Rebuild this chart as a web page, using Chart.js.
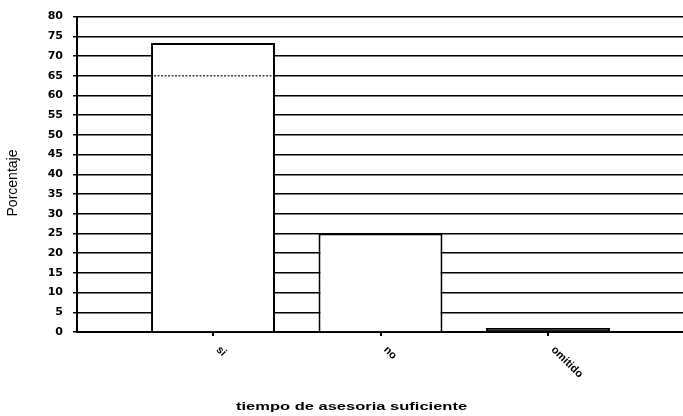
<!DOCTYPE html>
<html>
<head>
<meta charset="utf-8">
<style>
  html, body { margin: 0; padding: 0; background: #fff; }
  #wrap { width: 683px; height: 416px; position: relative; }
</style>
<script src="https://cdn.jsdelivr.net/npm/chart.js@4/dist/chart.umd.min.js"></script>
</head>
<body>
<div id="wrap"><canvas id="chart" width="683" height="416"></canvas></div>
<script>
// Answers to "tiempo de asesoria suficiente"
const categories = ['si', 'no', 'omitido'];
const percentages = [73.3, 25, 1];
const yTicks = [0, 5, 10, 15, 20, 25, 30, 35, 40, 45, 50, 55, 60, 65, 70, 75, 80];
const xTitle = 'tiempo de asesoria suficiente';
const yTitle = 'Porcentaje';

const points = categories.map((c, i) => ({ x: i, y: percentages[i] }));

// Axis titles, slanted category names and the faint gridline seen through the tall bar
const decorations = {
  id: 'decorations',
  afterDatasetsDraw(chart) {
    const { ctx, scales: { y } } = chart;
    const bar = chart.getDatasetMeta(0).data[0];
    const yy = y.getPixelForValue(65);
    ctx.save();
    ctx.strokeStyle = '#444';
    ctx.lineWidth = 1.5;
    ctx.setLineDash([2, 1.5]);
    ctx.beginPath();
    ctx.moveTo(bar.x - bar.width / 2 + 3, yy);
    ctx.lineTo(bar.x + bar.width / 2 - 2, yy);
    ctx.stroke();
    ctx.restore();
  },
  afterDraw(chart) {
    const { ctx, scales: { x, y } } = chart;
    ctx.save();
    ctx.fillStyle = '#000';

    ctx.font = 'bold 11px "Liberation Sans", Arial, sans-serif';
    ctx.textAlign = 'left';
    ctx.textBaseline = 'middle';
    categories.forEach((label, i) => {
      const px = x.getPixelForValue(i);
      ctx.save();
      ctx.translate(px + 5, y.bottom + 16);
      ctx.rotate(Math.PI / 4);
      ctx.fillText(label, 0, 0);
      ctx.restore();
    });

    ctx.save();
    ctx.font = 'bold 11px "Liberation Sans", Arial, sans-serif';
    ctx.textAlign = 'left';
    ctx.textBaseline = 'alphabetic';
    ctx.translate(236, 410);
    ctx.scale(1.5, 1);
    ctx.fillText(xTitle, 0, 0);
    ctx.restore();

    ctx.save();
    ctx.font = '14px "Liberation Sans", Arial, sans-serif';
    ctx.textAlign = 'center';
    ctx.textBaseline = 'middle';
    ctx.translate(13, 183);
    ctx.rotate(-Math.PI / 2);
    ctx.fillText(yTitle, 0, 0);
    ctx.restore();

    ctx.restore();
  }
};

new Chart(document.getElementById('chart'), {
  type: 'bar',
  data: {
    datasets: [{
      data: points,
      backgroundColor: ['#fff', '#fff', '#222'],
      borderColor: '#000',
      borderWidth: 2,
      borderSkipped: 'bottom',
      barPercentage: 0.74,
      categoryPercentage: 1
    }]
  },
  options: {
    responsive: false,
    animation: false,
    layout: { padding: { top: 15, right: 0, left: 0, bottom: 0 } },
    plugins: { legend: { display: false }, tooltip: { enabled: false } },
    scales: {
      x: {
        type: 'linear',
        offset: false,
        min: -0.812,
        max: 2.806,
        afterBuildTicks: s => { s.ticks = categories.map((c, i) => ({ value: i })); },
        afterFit: s => { s.height = 84; },
        ticks: { display: false },
        grid: { offset: false, drawOnChartArea: false, drawTicks: true, tickLength: 4, color: '#000', lineWidth: 2 },
        border: { display: true, color: '#000', width: 2 }
      },
      y: {
        min: 0,
        max: 80,
        afterBuildTicks: s => { s.ticks = yTicks.map(v => ({ value: v })); },
        afterFit: s => { s.width = 77; },
        ticks: {
          color: '#000',
          padding: 10,
          font: { family: '"DejaVu Sans", sans-serif', size: 11, weight: 'bold' }
        },
        grid: { color: '#000', lineWidth: 1.5, drawTicks: true, tickLength: 4 },
        border: { display: true, color: '#000', width: 2 }
      }
    }
  },
  plugins: [decorations]
});
</script>
</body>
</html>
